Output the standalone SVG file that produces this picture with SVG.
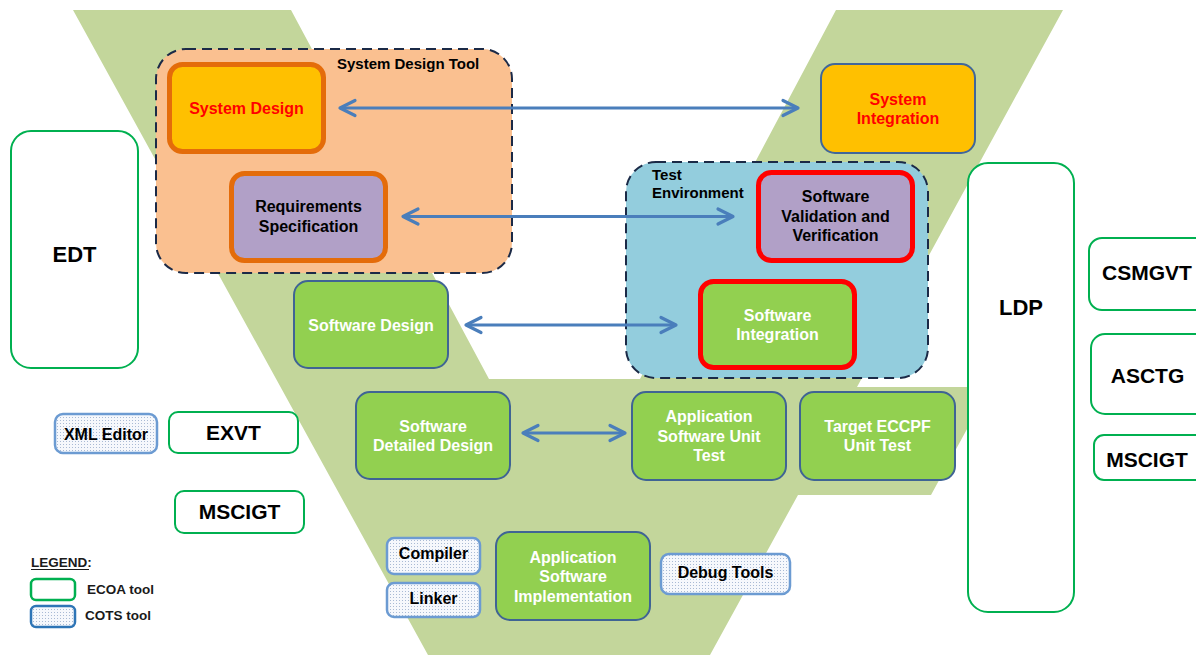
<svg xmlns="http://www.w3.org/2000/svg" width="1196" height="655" viewBox="0 0 1196 655">
  <defs>
    <style>
      text { font-family: "Liberation Sans", Arial, sans-serif; font-weight: bold; }
      .lbl { font-size: 16px; text-anchor: middle; fill: #000; }
      .wht { fill: #FFFFFF; }
      .red { fill: #FF0000; }
      .big { font-size: 21px; text-anchor: middle; fill: #000; }
      .grp { font-size: 15px; fill: #000; }
      .leg { font-size: 13.5px; fill: #1a1a1a; }
      .container { stroke: #1B2A47; stroke-width: 2; stroke-dasharray: 10 6; }
      .phase { fill: #92D050; stroke: #3F6494; stroke-width: 2; }
      .ecoa { fill: #FFFFFF; stroke: #00B050; stroke-width: 2; }
      .cots { fill: url(#dots); stroke: #6C9BD2; stroke-width: 2.5; }
      .conn { fill: none; stroke: #4A7EBB; stroke-width: 3; marker-start: url(#chev); marker-end: url(#chev); }
    </style>
    <!-- fine dot fill used for COTS tools -->
    <pattern id="dots" width="3" height="3" patternUnits="userSpaceOnUse">
      <rect width="3" height="3" fill="#F6F8FC"/>
      <rect width="1" height="1" fill="#A9BAD4"/>
    </pattern>
    <!-- open chevron arrowhead -->
    <marker id="chev" viewBox="-20 -12 24 24" refX="0" refY="0" markerWidth="24" markerHeight="24" markerUnits="userSpaceOnUse" orient="auto-start-reverse">
      <path d="M -15 -7.5 L 0 0 L -15 7.5" fill="none" stroke="#4A7EBB" stroke-width="3.2" stroke-linecap="round" stroke-linejoin="round"/>
    </marker>
  </defs>

  <!-- V-model background -->
  <path id="vee" d="M73,10 L291,10 L489,379 L640,379 L836,10 L1063,10 L857,387 L990,387 L931,495 L798,495 L710,655 L428,655 Z" fill="#C3D69B"/>

  <!-- tool containers -->
  <g id="system-design-tool">
    <rect class="container" x="156" y="49" width="356" height="224" rx="30" fill="#FAC090"/>
    <text class="grp" x="337" y="69">System Design Tool</text>
  </g>
  <g id="test-environment">
    <rect class="container" x="626" y="162" width="302" height="216" rx="30" fill="#93CDDD"/>
    <text class="grp" x="652" y="180">Test</text>
    <text class="grp" x="652" y="198">Environment</text>
  </g>

  <!-- process phases -->
  <g id="system-design">
    <rect x="169.5" y="64.5" width="154" height="87" rx="13" fill="#FFC000" stroke="#E46C0A" stroke-width="5"/>
    <text class="lbl red" x="246.5" y="114">System Design</text>
  </g>
  <g id="requirements-specification">
    <rect x="231.5" y="173.5" width="154" height="87" rx="13" fill="#B1A0C7" stroke="#E46C0A" stroke-width="5"/>
    <text class="lbl" x="308.5" y="212">Requirements</text>
    <text class="lbl" x="308.5" y="232">Specification</text>
  </g>
  <g id="system-integration">
    <rect x="821" y="64" width="154" height="89" rx="14" fill="#FFC000" stroke="#41679A" stroke-width="2"/>
    <text class="lbl red" x="898" y="104.5">System</text>
    <text class="lbl red" x="898" y="124">Integration</text>
  </g>
  <g id="software-validation-verification">
    <rect x="758.5" y="172.5" width="154" height="88" rx="13" fill="#B1A0C7" stroke="#FF0000" stroke-width="5"/>
    <text class="lbl" x="835.5" y="202">Software</text>
    <text class="lbl" x="835.5" y="221.7">Validation and</text>
    <text class="lbl" x="835.5" y="241">Verification</text>
  </g>
  <g id="software-integration">
    <rect x="700.5" y="281.5" width="154" height="86" rx="13" fill="#92D050" stroke="#FF0000" stroke-width="5"/>
    <text class="lbl wht" x="777.5" y="320.7">Software</text>
    <text class="lbl wht" x="777.5" y="340">Integration</text>
  </g>
  <g id="software-design">
    <rect class="phase" x="294" y="281" width="154" height="87" rx="14"/>
    <text class="lbl wht" x="371" y="330.5">Software Design</text>
  </g>
  <g id="software-detailed-design">
    <rect class="phase" x="356" y="392" width="154" height="87" rx="14"/>
    <text class="lbl wht" x="433" y="431.7">Software</text>
    <text class="lbl wht" x="433" y="451">Detailed Design</text>
  </g>
  <g id="application-software-unit-test">
    <rect class="phase" x="632" y="392" width="154" height="88" rx="14"/>
    <text class="lbl wht" x="709" y="422">Application</text>
    <text class="lbl wht" x="709" y="441.7">Software Unit</text>
    <text class="lbl wht" x="709" y="461">Test</text>
  </g>
  <g id="target-eccpf-unit-test">
    <rect class="phase" x="800" y="392" width="155" height="88" rx="14"/>
    <text class="lbl wht" x="877.5" y="431.7">Target ECCPF</text>
    <text class="lbl wht" x="877.5" y="451">Unit Test</text>
  </g>
  <g id="application-software-implementation">
    <rect class="phase" x="496" y="532" width="154" height="88" rx="14"/>
    <text class="lbl wht" x="573" y="562.7">Application</text>
    <text class="lbl wht" x="573" y="582">Software</text>
    <text class="lbl wht" x="573" y="601.7">Implementation</text>
  </g>

  <!-- ECOA tools -->
  <g id="edt">
    <rect class="ecoa" x="11" y="131" width="127" height="237" rx="20"/>
    <text class="big" x="74.5" y="262" style="font-size:22px">EDT</text>
  </g>
  <g id="ldp">
    <rect class="ecoa" x="968" y="163" width="106" height="449" rx="20"/>
    <text class="big" x="1021" y="315" style="font-size:22px">LDP</text>
  </g>
  <g id="csmgvt">
    <rect class="ecoa" x="1089" y="238" width="130" height="72" rx="13"/>
    <text class="big" x="1147" y="280">CSMGVT</text>
  </g>
  <g id="asctg">
    <rect class="ecoa" x="1091" y="334" width="130" height="80" rx="14"/>
    <text class="big" x="1147.5" y="383">ASCTG</text>
  </g>
  <g id="mscigt-right">
    <rect class="ecoa" x="1094" y="435" width="130" height="45" rx="10"/>
    <text class="big" x="1147" y="467">MSCIGT</text>
  </g>
  <g id="exvt">
    <rect class="ecoa" x="169" y="412" width="129" height="41" rx="9"/>
    <text class="big" x="233.5" y="440">EXVT</text>
  </g>
  <g id="mscigt-left">
    <rect class="ecoa" x="175" y="491" width="129" height="42" rx="9"/>
    <text class="big" x="239.5" y="519">MSCIGT</text>
  </g>

  <!-- COTS tools -->
  <g id="xml-editor">
    <rect class="cots" x="55" y="414" width="102" height="39" rx="8"/>
    <text class="lbl" x="106" y="440">XML Editor</text>
  </g>
  <g id="compiler">
    <rect class="cots" x="387" y="538" width="93" height="36" rx="7"/>
    <text class="lbl" x="433.5" y="559">Compiler</text>
  </g>
  <g id="linker">
    <rect class="cots" x="387" y="583" width="93" height="34" rx="7"/>
    <text class="lbl" x="433.5" y="604">Linker</text>
  </g>
  <g id="debug-tools">
    <rect class="cots" x="661" y="554" width="129" height="40" rx="8"/>
    <text class="lbl" x="725.5" y="577.5">Debug Tools</text>
  </g>

  <!-- connectors -->
  <g id="connectors">
    <line class="conn" x1="340" y1="108" x2="798" y2="108"/>
    <line class="conn" x1="403" y1="216.5" x2="733" y2="216.5"/>
    <line class="conn" x1="466" y1="325" x2="676" y2="325"/>
    <line class="conn" x1="523" y1="433" x2="625" y2="433"/>
  </g>

  <!-- legend -->
  <g id="legend">
    <text class="leg" x="31" y="567">LEGEND:</text>
    <line x1="31" y1="569.5" x2="89" y2="569.5" stroke="#1a1a1a" stroke-width="1.2"/>
    <rect x="31" y="579" width="44" height="21" rx="5" fill="#FFFFFF" stroke="#00B050" stroke-width="2.5"/>
    <text class="leg" x="87" y="593.5">ECOA tool</text>
    <rect x="31" y="606" width="44" height="21" rx="5" fill="url(#dots)" stroke="#2E75B6" stroke-width="2.5"/>
    <text class="leg" x="85" y="620">COTS tool</text>
  </g>
</svg>
